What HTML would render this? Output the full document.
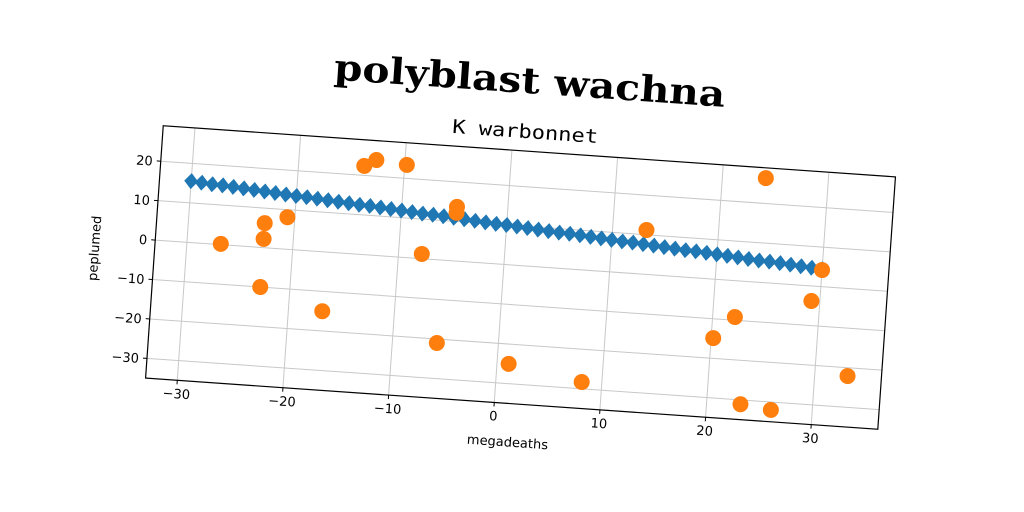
<!DOCTYPE html>
<html><head><meta charset="utf-8"><style>
html,body{margin:0;padding:0;background:#fff;width:1024px;height:512px;overflow:hidden}
svg{display:block}
</style></head><body>
<svg id="chart" width="1024" height="512" xmlns="http://www.w3.org/2000/svg">
<g id="rot" transform="rotate(4 520.5 277.75)">
<text x="516" y="93" text-anchor="middle" font-family="DejaVu Serif, serif" font-weight="bold" font-size="36" textLength="392" lengthAdjust="spacingAndGlyphs">polyblast wachna</text>
<text x="515" y="138" text-anchor="middle" font-family="DejaVu Sans Mono, monospace" font-size="19" textLength="146" lengthAdjust="spacingAndGlyphs">K warbonnet</text>
<g id="plot"></g>
<text x="519" y="447" text-anchor="middle" font-family="DejaVu Sans, sans-serif" font-size="13">megadeaths</text>
<text x="0" y="0" transform="translate(98 278) rotate(-90)" text-anchor="middle" font-family="DejaVu Sans, sans-serif" font-size="13">peplumed</text>
</g>
</svg>
<script>
const xTicks=[-30,-20,-10,0,10,20,30];
const yTicks=[-30,-20,-10,0,10,20];
const blueX=[-30,-29,-28,-27,-26,-25,-24,-23,-22,-21,-20,-19,-18,-17,-16,-15,-14,-13,-12,-11,-10,-9,-8,-7,-6,-5,-4,-3,-2,-1,0,1,2,3,4,5,6,7,8,9,10,11,12,13,14,15,16,17,18,19,20,21,22,23,24,25,26,27,28,29,30];
const blueY=[15.5,15.3,15.1,15.0,14.8,14.6,14.4,14.2,14.0,13.8,13.6,13.5,13.3,13.1,12.9,12.7,12.5,12.4,12.2,12.0,11.8,11.6,11.4,11.3,11.1,10.9,10.7,10.5,10.3,10.1,10.0,9.8,9.6,9.4,9.2,9.0,8.9,8.7,8.5,8.3,8.1,7.9,7.8,7.6,7.4,7.2,7.0,6.8,6.7,6.5,6.3,6.1,5.9,5.7,5.5,5.4,5.2,5.0,4.8,4.6,4.4];
const orangeX=[-26.8,-22.8,-22.8,-20.7,-22.8,-16.8,-13.8,-12.7,-9.8,-7.8,-5.8,-4.8,-4.8,1.1,8.1,13.2,20.2,22.1,23.2,24.1,26.1,29.2,30.0,33.1];
const orangeY=[0.2,6.2,2.2,8.1,-10,-15,22.4,24.1,23.4,1.2,-21,13.7,12.2,-25,-28.3,11.2,-14.9,-9.2,-31.1,26.4,-32,-3.8,4.2,-22.1];
const L=153.5,R=887.5,T=151,B=404,x0=-33,x1=36.3,y0=-35,y1=29;
const sx=v=>L+(v-x0)/(x1-x0)*(R-L);
const sy=v=>B-(v-y0)/(y1-y0)*(B-T);
const NS='http://www.w3.org/2000/svg';
const g=document.getElementById('plot');
function mk(t,a){const e=document.createElementNS(NS,t);for(const k in a)e.setAttribute(k,a[k]);g.appendChild(e);return e;}
xTicks.forEach(v=>{
 const l=mk('line',{x1:sx(v),x2:sx(v),y1:T,y2:B,stroke:'#c8c8c8','stroke-width':1});
 
 
 const tk=mk('line',{x1:sx(v),x2:sx(v),y1:B,y2:B+4,stroke:'#000'});
 
 
 const t=mk('text',{x:sx(v),y:B+18,'text-anchor':'middle','font-family':'DejaVu Sans, sans-serif','font-size':13});
 t.textContent=(v<0?'\u2212'+(-v):v);
 
 
});
yTicks.forEach(v=>{
 const l=mk('line',{x1:L,x2:R,y1:sy(v),y2:sy(v),stroke:'#c8c8c8','stroke-width':1});
 
 
 const tk=mk('line',{x1:L-4,x2:L,y1:sy(v),y2:sy(v),stroke:'#000'});
 
 
 const t=mk('text',{x:L-8,y:sy(v)+5,'text-anchor':'end','font-family':'DejaVu Sans, sans-serif','font-size':13});
 t.textContent=(v<0?'\u2212'+(-v):v);
 
 
});
blueX.forEach((v,i)=>{
 const x=sx(v),y=sy(blueY[i]);
 const p=mk('polygon',{points:`${x},${y-8} ${x+7},${y} ${x},${y+8} ${x-7},${y}`,fill:'#1f77b4'});
 
 
});
orangeX.forEach((v,i)=>{
 const c=mk('circle',{cx:sx(v),cy:sy(orangeY[i]),r:8,fill:'#ff7f0e'});
 
 
});
const f=mk('rect',{x:L,y:T,width:R-L,height:B-T,fill:'none',stroke:'#000','stroke-width':1.2});


</script>
</body></html>
